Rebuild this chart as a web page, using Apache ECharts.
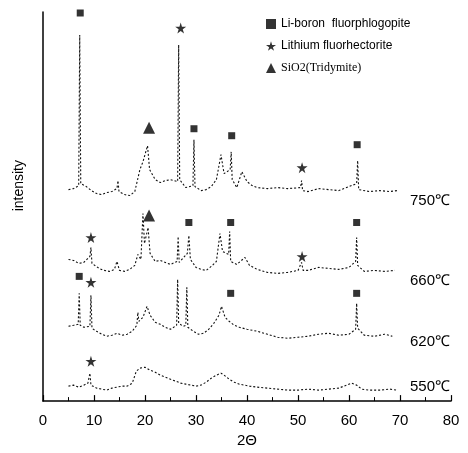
<!DOCTYPE html>
<html>
<head>
<meta charset="utf-8">
<script src="https://cdn.jsdelivr.net/npm/echarts@6/dist/echarts.min.js"></script>
<style>html,body{margin:0;padding:0;background:#fff}#c{width:468px;height:453px}</style>
</head>
<body>
<div id="c"></div>
<script>
// ---- data: [2θ, intensity (offset traces)] ----
const t550 = [[5,15],[6,16],[7,14],[8,16],[8.8,18],[9.2,28],[9.4,16],[10.5,13],[11.5,12],[12.5,11],[13.5,13],[14.5,14],[15.5,15],[16.5,15],[17.5,18],[18.3,30],[19,33],[20,34],[21,31],[22,29],[23,26],[24,24],[25,22],[26,20],[27,18],[28,17],[29,16],[30,15],[31,16],[32,19],[33,23],[34,26],[34.9,28],[35.5,26],[36.5,22],[37.5,19],[38.5,17],[39.5,16],[40.5,15],[42,14],[44,13],[46,12],[48,11],[50,11],[52,12],[54,11],[56,12],[58,13],[59.5,16],[60.5,18],[61.5,16],[62.5,12],[64,11],[66,11],[68,12],[69.5,11]];
const t620 = [[5,75],[6,76],[6.9,77],[7.1,108],[7.3,76],[8,74],[9.2,75],[9.4,106],[9.6,73],[10.5,70],[11.5,67],[12.5,65],[13.5,66],[14.5,68],[15.5,66],[16.5,67],[17.5,70],[18.4,76],[18.6,89],[18.8,80],[19.6,84],[20.4,95],[21,86],[22,79],[23,77],[24,74],[25,72],[26.2,76],[26.4,122],[26.6,78],[27.5,75],[28,76],[28.2,114],[28.4,74],[29.5,70],[30.5,67],[31.5,68],[32.5,72],[33.5,78],[34.5,86],[35,95],[35.7,84],[36.5,80],[37.5,76],[38.5,74],[40,72],[42,70],[44,67],[46,64],[48,63],[50,64],[52,65],[54,67],[56,68],[58,66],[60,67],[61.3,72],[61.5,98],[61.7,73],[63,66],[65,65],[67,67],[68.5,65]];
const t660 = [[5,142],[6,141],[7,138],[8,139],[9.2,145],[9.4,154],[9.6,138],[11,133],[12,131],[13,130],[14,132],[14.5,140],[15,131],[16,130],[17,132],[18,136],[18.6,147],[19.2,142],[19.6,188],[19.9,158],[20.6,174],[21,148],[22,140],[23,141],[24,139],[25,137],[26.3,140],[26.5,165],[26.7,139],[28.3,148],[28.6,166],[28.9,142],[30,134],[31,132],[32,131],[33,135],[34,140],[34.7,168],[35.2,150],[36.4,147],[36.6,170],[36.8,140],[38,137],[39.6,144],[40.5,136],[42,132],[44,129],[46,128],[48,129],[50,131],[50.7,139],[51,131],[52,131],[54,134],[56,133],[58,132],[60,134],[61.3,140],[61.5,164],[61.7,136],[63,130],[65,131],[67,130],[69,131]];
const t750 = [[5,212],[6,213],[7,216],[7.2,367],[7.4,218],[8.5,215],[9.5,211],[10.5,208],[11.5,207],[12.5,209],[13.5,210],[14.5,213],[14.7,221],[14.9,210],[16,207],[17,206],[18,210],[19,232],[19.6,240],[20.5,256],[20.9,232],[22,222],[23,219],[24,221],[25,222],[26.4,220],[26.6,357],[26.8,222],[28,214],[29.4,216],[29.6,262],[29.8,215],[31,211],[32,212],[33,215],[34,222],[34.9,247],[35.5,228],[36.7,232],[36.9,250],[37.1,222],[38,214],[39,230],[40,220],[41,216],[42,214],[44,213],[46,214],[48,213],[50.5,214],[50.7,221],[50.9,211],[52,210],[54,213],[56,212],[58,211],[60,215],[61.5,218],[61.7,241],[61.9,212],[64,210],[66,211],[68,210],[69.4,211]];

const squares   = [[7.3,389],[29.6,273],[37,266],[61.6,257], [28.6,179],[36.8,179],[61.5,179], [7.1,125],[36.8,108],[61.5,108]];
const stars     = [[27,374],[50.8,234], [9.4,164],[50.8,145], [9.4,119], [9.4,40]];
const triangles = [[20.8,274],[20.8,186]];

const tempNames  = ['750℃','660℃','620℃','550℃'];
const legendNames = ['Li-boron  fluorphlogopite','Lithium fluorhectorite','SiO2(Tridymite)'];
const xTickMin = 0, xTickMax = 80, xTickStep = 10;

const starPath = 'path://M50,0 L61,35 L98,35 L68,57 L79,91 L50,70 L21,91 L32,57 L2,35 L39,35 Z';
const font = 'Arial, "Liberation Sans", sans-serif';

const chart = echarts.init(document.getElementById('c'), null, {renderer:'canvas'});
const traceStyle = {color:'#111', width:1.1, type:[2,2]};
function trace(d){ return {type:'line', data:d, symbol:'none', lineStyle:traceStyle, silent:true, z:2}; }

const tempY = [201, 281, 342, 387];
chart.setOption({
  animation:false,
  backgroundColor:'#fff',
  grid:{left:43, right:17, top:12, bottom:51},
  xAxis:{type:'value', min:xTickMin, max:xTickMax, interval:xTickStep,
    axisLine:{lineStyle:{color:'#000', width:1.5}},
    axisTick:{inside:true, length:6, lineStyle:{color:'#000', width:1.2}},
    minorTick:{show:true, splitNumber:2, length:4, lineStyle:{color:'#000', width:1}},
    splitLine:{show:false},
    axisLabel:{color:'#000', fontSize:15, fontFamily:font, margin:12},
    name:'2Θ', nameLocation:'middle', nameGap:31,
    nameTextStyle:{color:'#000', fontSize:15, fontFamily:font}},
  yAxis:{type:'value', min:0, max:390,
    axisLine:{show:true, lineStyle:{color:'#000', width:1.5}},
    axisTick:{show:false}, axisLabel:{show:false}, splitLine:{show:false}},
  legend:{orient:'vertical', left:261, top:13, itemGap:10, itemWidth:10, itemHeight:10,
    selectedMode:false,
    textStyle:{color:'#000', fontSize:12, fontFamily:font},
    data:[
      {name:legendNames[0], icon:'rect'},
      {name:legendNames[1], icon:starPath},
      {name:legendNames[2], icon:'triangle', textStyle:{fontFamily:'"Liberation Serif", "DejaVu Serif", serif', fontSize:12}}
    ]},
  graphic:[
    {type:'text', left:12, top:160, rotation:Math.PI/2,
      style:{text:'intensity', fill:'#000', font:'14px '+font}},
  ].concat(tempNames.map((t,i)=>({type:'text', left:410, top:tempY[i]-8,
      style:{text:t, fill:'#000', font:'15px '+font}}))),
  series:[
    trace(t550), trace(t620), trace(t660), trace(t750),
    {type:'scatter', name:legendNames[0], data:squares, symbol:'rect', symbolSize:7, itemStyle:{color:'#000'}, z:5},
    {type:'scatter', name:legendNames[1], data:stars, symbol:starPath, symbolSize:11, itemStyle:{color:'#000'}, z:5},
    {type:'scatter', name:legendNames[2], data:triangles, symbol:'triangle', symbolSize:12, itemStyle:{color:'#000'}, z:5}
  ]
});
</script>
</body>
</html>
